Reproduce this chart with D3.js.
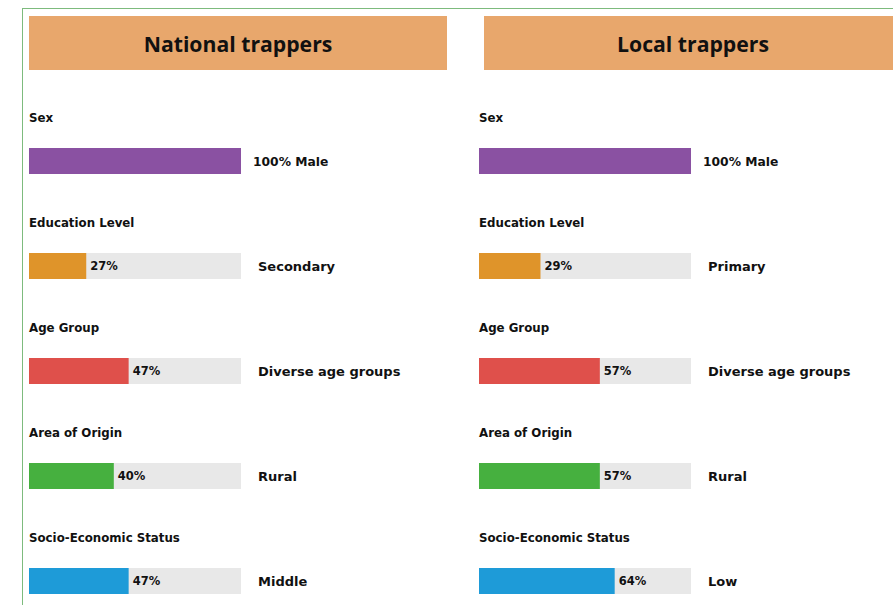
<!DOCTYPE html>
<html>
<head>
<meta charset="utf-8">
<script src="https://cdn.jsdelivr.net/npm/d3@7"></script>
<style>
  body { margin: 0; background: #fff; }
  svg { display: block; }
</style>
</head>
<body>
<svg id="chart" width="893" height="605"></svg>
<script>
const svg = d3.select("#chart");

// data
const groups = ["National trappers", "Local trappers"];
const attributes = ["Sex", "Education Level", "Age Group", "Area of Origin", "Socio-Economic Status"];
const nationalValues = [100, 27, 47, 40, 47];
const localValues = [100, 29, 57, 57, 64];
const nationalCategories = ["Male", "Secondary", "Diverse age groups", "Rural", "Middle"];
const localCategories = ["Male", "Primary", "Diverse age groups", "Rural", "Low"];
const barColors = ["#8a51a2", "#df942a", "#df504b", "#46b03f", "#1e9bd8"];

const panels = [
  { title: groups[0], values: nationalValues, cats: nationalCategories, x: 29, headX: 29, headW: 418, titleX: 238 },
  { title: groups[1], values: localValues, cats: localCategories, x: 479, headX: 484, headW: 420, titleX: 693 }
];

const barW = 212;
const barH = 26;
const x = d3.scaleLinear().domain([0, 100]).range([0, barW]);
const y = d3.scaleBand().domain(attributes).range([100, 625]).padding(0);

// green frame
svg.append("rect")
  .attr("x", 22.5).attr("y", 8.5)
  .attr("width", 900).attr("height", 700)
  .attr("fill", "none")
  .attr("stroke", "#7dbb7d")
  .attr("stroke-width", 1);

panels.forEach(p => {
  const g = svg.append("g");

  g.append("rect")
    .attr("x", p.headX).attr("y", 16)
    .attr("width", p.headW).attr("height", 54)
    .attr("fill", "#e8a76c");

  g.append("text")
    .attr("x", p.titleX)
    .attr("y", 43)
    .attr("text-anchor", "middle")
    .attr("dominant-baseline", "central")
    .style("font-family", "'Open Sans', 'Noto Sans', sans-serif")
    .style("font-weight", "bold")
    .style("font-size", "21.2px")
    .style("fill", "#111")
    .text(p.title);

  attributes.forEach((a, i) => {
    const top = y(a);
    const v = p.values[i];

    g.append("text")
      .attr("x", p.x)
      .attr("y", top + 18)
      .attr("dominant-baseline", "central")
      .style("font-family", "'DejaVu Sans', sans-serif")
      .style("font-weight", "bold")
      .style("font-size", "11.8px")
      .style("fill", "#111")
      .text(a);

    const by = top + 48;
    g.append("rect")
      .attr("x", p.x).attr("y", by)
      .attr("width", barW).attr("height", barH)
      .attr("fill", "#e8e8e8");

    g.append("rect")
      .attr("x", p.x).attr("y", by)
      .attr("width", x(v)).attr("height", barH)
      .attr("fill", barColors[i]);

    if (v < 100) {
      g.append("text")
        .attr("x", p.x + x(v) + 4)
        .attr("y", by + barH / 2)
        .attr("dominant-baseline", "central")
        .style("font-family", "'DejaVu Sans', sans-serif")
        .style("font-weight", "bold")
        .style("font-size", "11.5px")
        .style("fill", "#111")
        .text(v + "%");
      g.append("text")
        .attr("x", p.x + barW + 17)
        .attr("y", by + barH / 2)
        .attr("dominant-baseline", "central")
        .style("font-family", "'DejaVu Sans', sans-serif")
        .style("font-weight", "bold")
        .style("font-size", "13px")
        .style("fill", "#111")
        .text(p.cats[i]);
    } else {
      g.append("text")
        .attr("x", p.x + barW + 12)
        .attr("y", by + barH / 2 + 1)
        .attr("dominant-baseline", "central")
        .style("font-family", "'DejaVu Sans', sans-serif")
        .style("font-weight", "bold")
        .style("font-size", "12.3px")
        .style("fill", "#111")
        .text(v + "% " + p.cats[i]);
    }
  });
});
</script>
</body>
</html>
